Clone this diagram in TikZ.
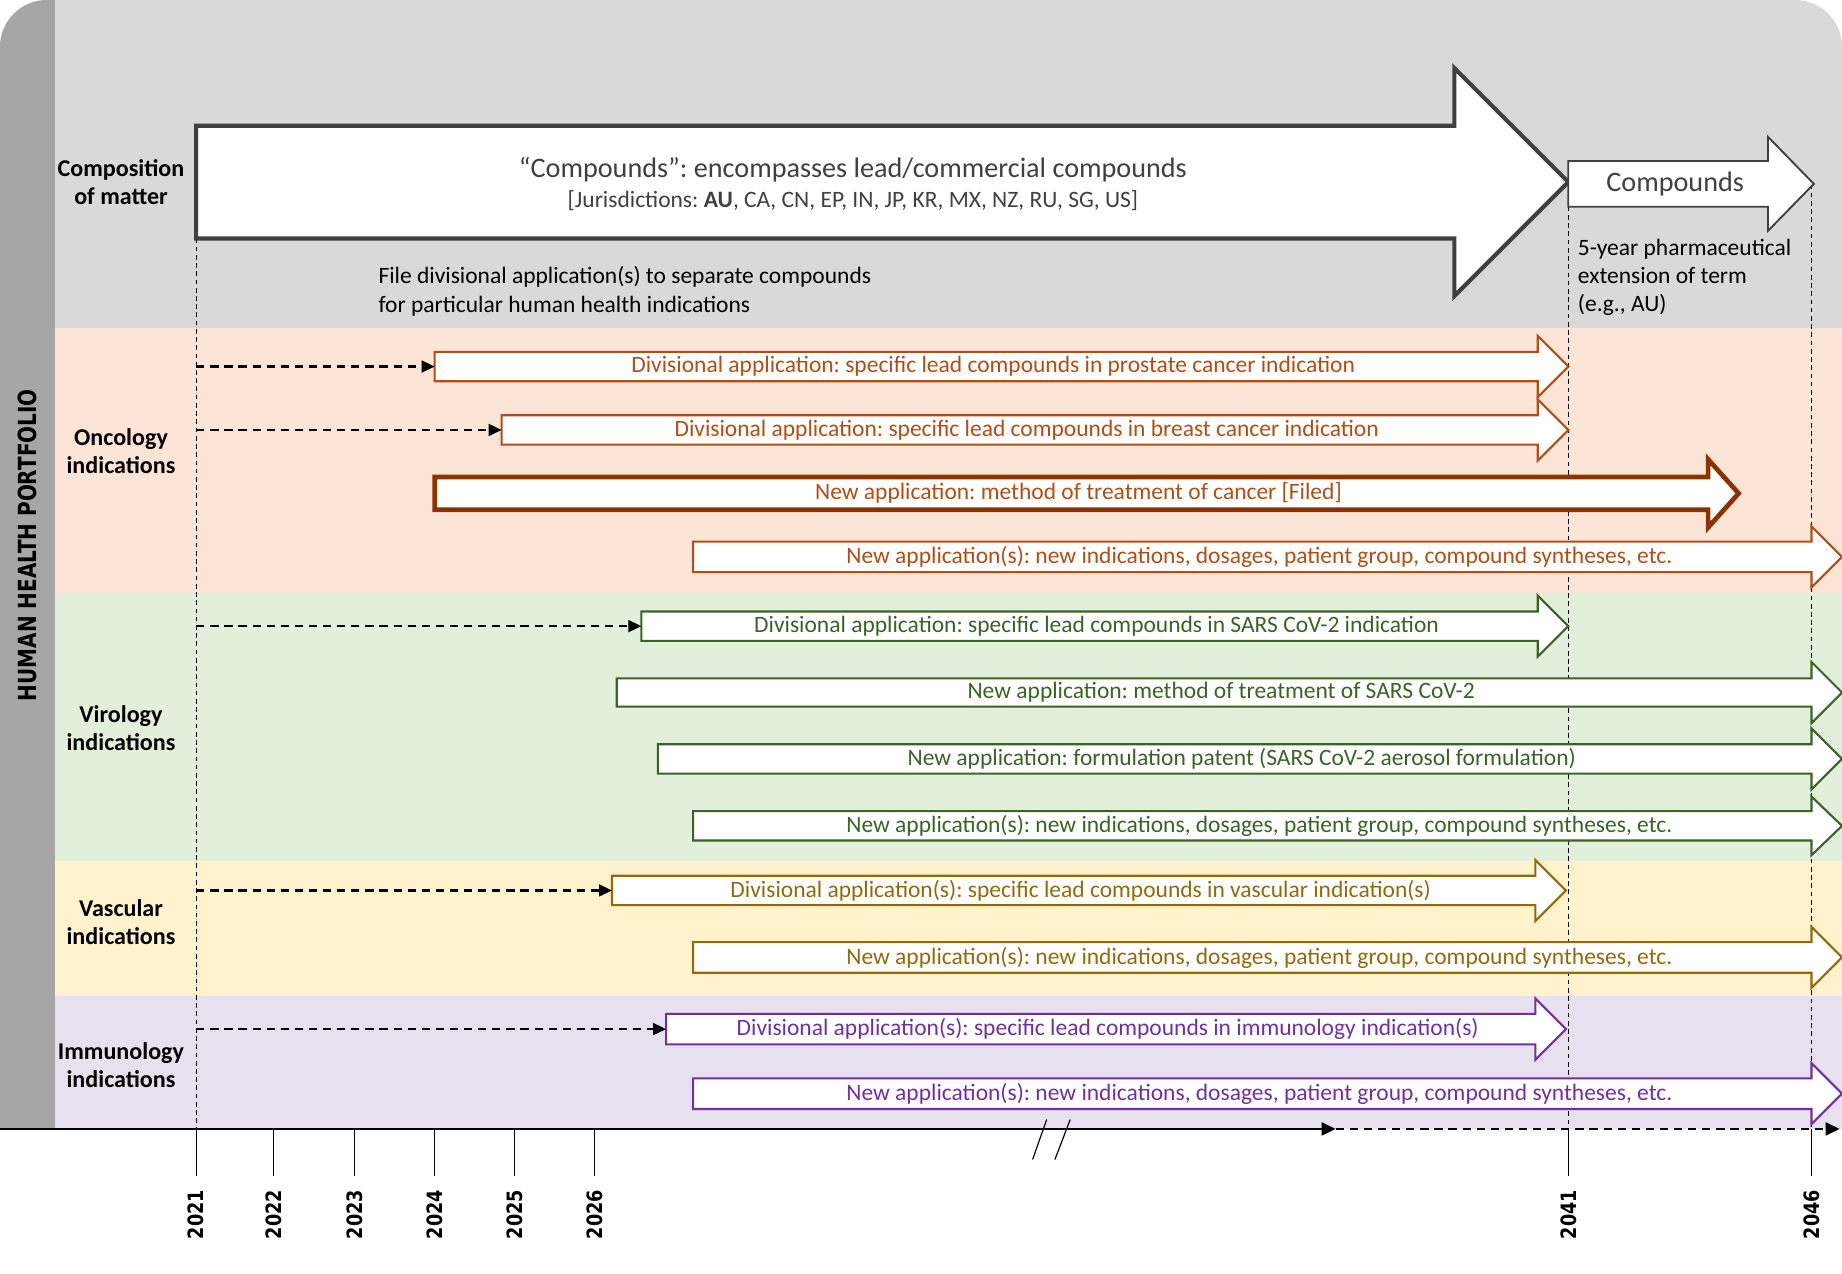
\documentclass[tikz,border=0pt]{standalone}
\usepackage{fontspec}
\setmainfont{Carlito}
\newfontfamily\headfont{DejaVu Sans}
\usetikzlibrary{arrows.meta}
\definecolor{bandgray}{HTML}{D9D9D9}
\definecolor{sidegray}{HTML}{A6A6A6}
\definecolor{oncoband}{HTML}{FCE4D6}
\definecolor{viroband}{HTML}{E2EFDA}
\definecolor{vascband}{HTML}{FFF2CC}
\definecolor{immuband}{HTML}{E6E0EF}
\definecolor{cmpgray}{HTML}{404040}
\definecolor{onco}{HTML}{B04E17}
\definecolor{oncodark}{HTML}{8C3100}
\definecolor{viro}{HTML}{3B6327}
\definecolor{vasc}{HTML}{94690C}
\definecolor{immu}{HTML}{7030A0}
\newcommand{\apptext}{\fontsize{20}{24}\selectfont\frenchspacing}
% block arrow: name, style, x tail, x head base, x tip, y, half shaft, half head, text
\newcommand{\apparrow}[9]{%
  \draw[fill=white,line width=1.8pt,#2] (#3,#6-#7) -- (#4,#6-#7) -- (#4,#6-#8) -- (#5,#6)
    -- (#4,#6+#8) -- (#4,#6+#7) -- (#3,#6+#7) -- cycle;
  \node[#2,draw=none,inner sep=0pt,font=\apptext] (#1) at ({(#3+#4)/2+6},#6) {#9};
  \coordinate (#1-tail) at (#3,#6);}

\begin{document}
\frenchspacing
\begin{tikzpicture}[x=1pt,y=-1pt,
  oncoarr/.style={draw=onco,text=onco},
  filedarr/.style={draw=oncodark,text=onco,line width=4pt},
  viroarr/.style={draw=viro,text=viro},
  vascarr/.style={draw=vasc,text=vasc},
  immuarr/.style={draw=immu,text=immu},
  lab/.style={font=\bfseries\fontsize{20.5}{24}\selectfont,align=center},
  note/.style={font=\apptext,align=left,anchor=west,inner sep=0pt},
  yearline/.style={line width=0.9pt,dash pattern=on 4pt off 3pt},
  leadarr/.style={line width=1.8pt,dash pattern=on 7pt off 5pt,-{Triangle[length=11pt,width=10pt]}},
  year/.style={rotate=90,yscale=1.2,font=\headfont\bfseries\fontsize{15}{18}\selectfont}]
  \useasboundingbox (0,0) rectangle (1568,1084);
  \fill[white] (0,0) rectangle (1568,1084);
  % bands
  \begin{scope}
    \clip (0,961) -- (0,40) arc[start angle=180,end angle=270,radius=40] -- (1528,0)
      arc[start angle=270,end angle=360,radius=40] -- (1568,961) -- cycle;
    \fill[bandgray] (0,0) rectangle (1568,279);
    \fill[oncoband] (0,279) rectangle (1568,505);
    \fill[viroband] (0,505) rectangle (1568,733);
    \fill[vascband] (0,733) rectangle (1568,848);
    \fill[immuband] (0,848) rectangle (1568,961);
    \fill[sidegray] (0,0) rectangle (47,961);
  \end{scope}
  \node[rotate=90,yscale=1.25,font=\headfont\bfseries\fontsize{17}{20}\selectfont] (portfolio) at (23,464) {HUMAN HEALTH PORTFOLIO};
  \node[lab] (comp) at (103,155) {Composition\\of matter};
  \node[lab] (onc) at (103,384) {Oncology\\indications};
  \node[lab] (vir) at (103,620) {Virology\\indications};
  \node[lab] (vas) at (103,785) {Vascular\\indications};
  \node[lab] (imm) at (103,907) {Immunology\\indications};

  % year guides
  \coordinate (t2021) at (167,961);
  \coordinate (t2041) at (1335,961);
  \coordinate (t2046) at (1542,961);
  \draw[yearline] (167,203) -- (t2021);
  \draw[yearline] (1335,176) -- (t2041);
  \draw[yearline] (1542,157) -- (t2046);

  % composition of matter
  \apparrow{cmp}{draw=cmpgray,line width=3.5pt}{167}{1238}{1335}{155}{48}{97}{}
  \node[text=cmpgray,font=\fontsize{24}{28}\selectfont\frenchspacing] (cmptitle) at (726,144) {“Compounds”: encompasses lead/commercial compounds};
  \node[text=cmpgray,font=\fontsize{20}{22}\selectfont\frenchspacing] (cmpjur) at (726,171) {[Jurisdictions: \textbf{AU}, CA, CN, EP, IN, JP, KR, MX, NZ, RU, SG, US]};
  \apparrow{ext}{draw=cmpgray,text=cmpgray,line width=1.6pt}{1335}{1505}{1544}{156.5}{19.5}{40}{\fontsize{24}{28}\selectfont Compounds}
  \node[note] (divnote) at (322,248) {File divisional application(s) to separate compounds\\for particular human health indications};
  \node[note] (extnote) at (1343,236) {5-year pharmaceutical\\extension of term\\(e.g., AU)};

  % oncology
  \apparrow{prost}{oncoarr}{370}{1309}{1335}{312}{12.5}{26}{Divisional application: specific lead compounds in prostate cancer indication}
  \apparrow{breast}{oncoarr}{427}{1309}{1335}{366}{12.5}{26}{Divisional application: specific lead compounds in breast cancer indication}
  \apparrow{cancer}{filedarr}{370}{1454}{1480}{420}{14}{29}{New application: method of treatment of cancer [Filed]}
  \apparrow{onconew}{oncoarr}{590}{1542}{1568}{474}{13}{26}{New application(s): new indications, dosages, patient group, compound syntheses, etc.}
  % virology
  \apparrow{sarsdiv}{viroarr}{546}{1309}{1335}{533}{12.5}{26}{Divisional application: specific lead compounds in SARS CoV-2 indication}
  \apparrow{sarsmeth}{viroarr}{525}{1542}{1568}{589.5}{12}{26}{New application: method of treatment of SARS CoV-2}
  \apparrow{sarsform}{viroarr}{560}{1542}{1568}{646}{12.5}{26}{New application: formulation patent (SARS CoV-2 aerosol formulation)}
  \apparrow{viranew}{viroarr}{590}{1542}{1568}{703}{12.5}{25}{New application(s): new indications, dosages, patient group, compound syntheses, etc.}
  % vascular
  \apparrow{vascdiv}{vascarr}{521}{1307}{1333}{758}{12.5}{26}{Divisional application(s): specific lead compounds in vascular indication(s)}
  \apparrow{vascnew}{vascarr}{590}{1542}{1568}{815}{13}{26}{New application(s): new indications, dosages, patient group, compound syntheses, etc.}
  % immunology
  \apparrow{immdiv}{immuarr}{567}{1307}{1333}{876}{13}{26}{Divisional application(s): specific lead compounds in immunology indication(s)}
  \apparrow{immnew}{immuarr}{590}{1542}{1568}{931}{13}{26}{New application(s): new indications, dosages, patient group, compound syntheses, etc.}

  % divisional filings
  \draw[leadarr] (t2021 |- prost-tail) -- (prost-tail);
  \draw[leadarr] (t2021 |- breast-tail) -- (breast-tail);
  \draw[leadarr] (t2021 |- sarsdiv-tail) -- (sarsdiv-tail);
  \draw[leadarr] (t2021 |- vascdiv-tail) -- (vascdiv-tail);
  \draw[leadarr] (t2021 |- immdiv-tail) -- (immdiv-tail);

  % timeline
  \coordinate (ax0) at (0,961);
  \coordinate (axbreak) at (1137,961);
  \coordinate (axend) at (1566,961);
  \draw[line width=2.2pt,-{Triangle[length=12pt,width=11pt]}] (ax0) -- (axbreak);
  \draw[line width=2pt,dash pattern=on 7pt off 5pt,-{Triangle[length=12pt,width=11pt]}] (axbreak) -- (axend);
  \draw[line width=1pt] (891,953) -- (879,987);
  \draw[line width=1pt] (911,953) -- (898,987);
  \foreach \x/\yr in {167/2021,233/2022,302/2023,370/2024,438/2025,506/2026,1335/2041,1542/2046}{
    \draw[line width=1pt] (\x,961) -- (\x,1001);
    \node[year] (y\yr) at (\x,1034) {\yr};
  }
\end{tikzpicture}
\end{document}
